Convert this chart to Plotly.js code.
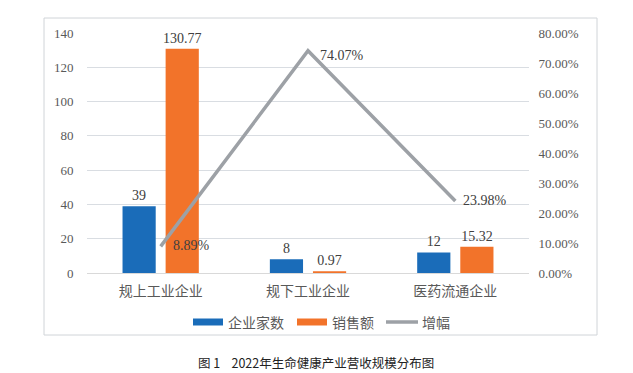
<!DOCTYPE html>
<html><head><meta charset="utf-8">
<script src="https://cdn.plot.ly/plotly-3.0.1.min.js"></script>
<style>html,body{margin:0;padding:0;background:#fff;}#c{width:633px;height:373px;}</style>
</head><body><div id="c"></div>
<script>
const categories = ['规上工业企业', '规下工业企业', '医药流通企业'];
const companyCount = [39, 8, 12];
const salesAmount = [130.77, 0.97, 15.32];
const growthRate = [8.89, 74.07, 23.98];
const countLabels = ['39', '8', '12'];
const salesLabels = ['130.77', '0.97', '15.32'];
const growthLabels = ['8.89%', '74.07%', '23.98%'];
const seriesNames = ['企业家数', '销售额', '增幅'];

const BLUE = '#1a6cb9', ORANGE = '#f2732a', GRAY = '#9da1a6';
const serif = 'Liberation Serif, Times New Roman, serif';
const cjk = 'Noto Sans CJK SC, sans-serif';

// pixel geometry helpers for the frame and legend (plot area: x 87..529, y 33..273)
const L = 87, R = 529, T = 33, B = 273;
const px = x => (x - L) / (R - L);
const py = y => (B - y) / (B - T);

const traces = [
  {type:'bar', x:categories, y:companyCount, name:seriesNames[0], marker:{color:BLUE},
   text:countLabels, textposition:'outside', cliponaxis:false, constraintext:'none',
   textfont:{family:serif, size:14, color:'#404040'}, showlegend:false, hoverinfo:'none'},
  {type:'bar', x:categories, y:salesAmount, name:seriesNames[1], marker:{color:ORANGE},
   text:salesLabels, textposition:'outside', cliponaxis:false, constraintext:'none',
   textfont:{family:serif, size:14, color:'#404040'}, showlegend:false, hoverinfo:'none'},
  {type:'scatter', mode:'lines', x:categories, y:growthRate, yaxis:'y2', name:seriesNames[2],
   line:{color:GRAY, width:3.5}, showlegend:false, hoverinfo:'none'}
];

const annotations = [];
const offs = [[31, 1], [34, -5], [30, 1]];
for (let i = 0; i < categories.length; i++) {
  annotations.push({x:categories[i], y:growthRate[i], xref:'x', yref:'y2', text:growthLabels[i],
    showarrow:false, xanchor:'center', yanchor:'middle', xshift:offs[i][0], yshift:offs[i][1],
    font:{family:serif, size:14, color:'#404040'}});
}
// caption
annotations.push({xref:'paper', yref:'paper', x:px(316), y:py(362), text:'图 1    2022年生命健康产业营收规模分布图',
  showarrow:false, xanchor:'center', yanchor:'middle', font:{family:cjk, size:12.5, color:'#222'}});
// legend texts
const legText = [[226, seriesNames[0]], [330, seriesNames[1]], [420, seriesNames[2]]];
legText.forEach(([x, t]) => annotations.push({xref:'paper', yref:'paper', x:px(x), y:py(322), text:t,
  showarrow:false, xanchor:'left', yanchor:'middle', font:{family:cjk, size:14, color:'#595959'}}));

const shapes = [
  {type:'rect', xref:'paper', yref:'paper', x0:px(44), x1:px(597), y0:py(18), y1:py(335),
   line:{color:'#d0d4d8', width:1}, fillcolor:'rgba(0,0,0,0)', layer:'below'},
  {type:'rect', xref:'paper', yref:'paper', x0:px(193), x1:px(223), y0:py(318.5), y1:py(325.5),
   line:{width:0}, fillcolor:BLUE},
  {type:'rect', xref:'paper', yref:'paper', x0:px(297), x1:px(327), y0:py(318.5), y1:py(325.5),
   line:{width:0}, fillcolor:ORANGE},
  {type:'line', xref:'paper', yref:'paper', x0:px(386), x1:px(418), y0:py(322), y1:py(322),
   line:{color:GRAY, width:3.5}}
];

const layout = {
  width:633, height:373,
  margin:{l:L, r:633-R, t:T, b:373-B, pad:0},
  paper_bgcolor:'#fff', plot_bgcolor:'#fff',
  barmode:'group', bargap:0.415, bargroupgap:0.23,
  showlegend:false,
  xaxis:{type:'category', showgrid:false, zeroline:false, showline:true, linecolor:'#d9d9d9', linewidth:1,
    ticks:'', tickfont:{family:cjk, size:14, color:'#595959'}, ticklabelstandoff:5},
  yaxis:{range:[0,140], dtick:20, showgrid:true, gridcolor:'#d9dde2', gridwidth:1, zeroline:false,
    showline:false, ticks:'outside', ticklen:10, tickcolor:'rgba(0,0,0,0)',
    tickfont:{family:serif, size:13, color:'#595959'}},
  yaxis2:{range:[0,80], dtick:10, overlaying:'y', side:'right', showgrid:false, zeroline:false,
    showline:false, ticks:'outside', ticklen:6, tickcolor:'rgba(0,0,0,0)',
    ticksuffix:'.00%', tickfont:{family:serif, size:13, color:'#595959'}},
  annotations:annotations, shapes:shapes
};
Plotly.newPlot('c', traces, layout, {staticPlot:true, displayModeBar:false});
</script></body></html>
